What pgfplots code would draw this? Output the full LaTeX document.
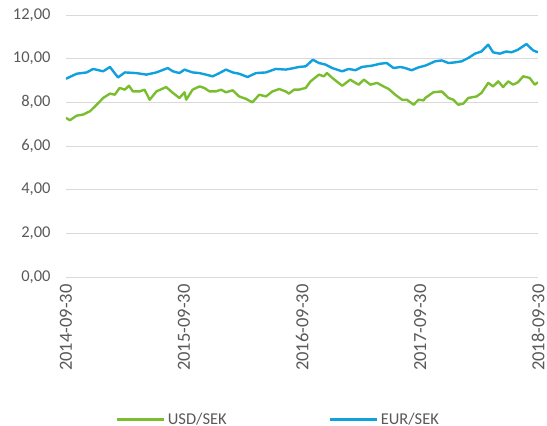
\documentclass[border=0pt]{standalone}
\usepackage{fontspec}
\setmainfont{Carlito}
\usepackage{pgfplots}
\pgfplotsset{compat=1.18}
\usepackage{pgfplotstable}
\definecolor{usdgreen}{RGB}{122,190,48}
\definecolor{eurblue}{RGB}{17,160,222}
\definecolor{gridgray}{RGB}{217,217,217}
\definecolor{txtgray}{RGB}{89,89,89}

\pgfplotstableread{
day val
0 7.29
12 7.18
33 7.39
53 7.44
74 7.59
95 7.89
115 8.20
136 8.40
151 8.35
166 8.66
182 8.58
195 8.76
207 8.50
228 8.50
243 8.58
259 8.12
280 8.50
310 8.70
331 8.43
351 8.20
367 8.46
372 8.12
392 8.58
413 8.73
428 8.66
444 8.50
464 8.50
480 8.58
495 8.46
516 8.55
536 8.27
557 8.16
577 8.00
598 8.35
619 8.27
639 8.50
660 8.61
680 8.50
690 8.40
706 8.58
721 8.58
742 8.66
757 8.96
783 9.27
798 9.19
808 9.34
824 9.12
855 8.76
880 9.04
896 8.89
906 8.81
922 9.04
942 8.81
963 8.89
983 8.73
999 8.61
1019 8.35
1040 8.12
1055 8.12
1076 7.89
1091 8.12
1107 8.09
1112 8.20
1137 8.46
1163 8.50
1184 8.20
1199 8.12
1214 7.89
1230 7.94
1245 8.20
1271 8.27
1286 8.43
1307 8.89
1322 8.73
1338 8.96
1353 8.70
1369 8.96
1384 8.81
1399 8.92
1415 9.19
1435 9.12
1451 8.81
1461 8.92
}\usd

\pgfplotstableread{
day val
0 9.08
33 9.31
64 9.37
84 9.53
115 9.42
136 9.62
161 9.14
182 9.37
218 9.34
249 9.27
280 9.37
315 9.57
331 9.42
351 9.34
367 9.50
372 9.47
392 9.37
413 9.34
433 9.27
454 9.19
475 9.34
495 9.50
516 9.37
536 9.31
562 9.16
588 9.34
619 9.37
649 9.53
680 9.50
706 9.57
721 9.62
742 9.65
764 9.95
783 9.80
803 9.73
824 9.57
855 9.42
875 9.53
896 9.47
916 9.62
947 9.68
973 9.77
993 9.80
1014 9.57
1035 9.62
1050 9.57
1070 9.47
1091 9.60
1112 9.68
1143 9.88
1163 9.92
1184 9.80
1204 9.83
1225 9.88
1245 10.03
1266 10.23
1286 10.33
1307 10.64
1322 10.29
1343 10.23
1363 10.33
1379 10.29
1399 10.41
1425 10.67
1446 10.38
1461 10.29
}\eur

\begin{document}
\begin{tikzpicture}
\path[use as bounding box] (0,0) rectangle (547pt,426pt);
\begin{axis}[
  at={(66pt,149pt)}, anchor=south west,
  scale only axis, width=472pt, height=262pt,
  xmin=0, xmax=1461, ymin=0, ymax=12,
  ytick={0,2,4,6,8,10,12},
  xtick={0,365,731,1096,1461},
  xticklabels={2014-09-30,2015-09-30,2016-09-30,2017-09-30,2018-09-30},
  axis line style={draw=none},
  major tick length=0pt,
  ymajorgrids, major grid style={gridgray, line width=1pt},
  font=\fontsize{16.5}{19}\selectfont\color{txtgray},
  yticklabel style={font=\fontsize{16.5}{19}\selectfont, text=txtgray},
  xticklabel style={font=\fontsize{18.5}{21}\selectfont, text=txtgray},
  /pgf/number format/assume math mode=true,
  yticklabel={\pgfmathprintnumber[fixed,fixed zerofill,precision=2,use comma]{\tick}},
  yticklabel style={anchor=east, xshift=-12pt},
  xticklabel style={inner ysep=0.5pt, yshift=-4pt, rotate=90, anchor=east},
  legend style={at={(0.45,-0.545)}, anchor=center, draw=none, fill=none,
    font=\fontsize{16.5}{19}\selectfont, text=txtgray, legend columns=2,
    /tikz/every even column/.append style={column sep=100pt}},
  legend image code/.code={\draw[#1, line width=3pt] (0pt,0pt) -- (47pt,0pt);},
]
\addplot[usdgreen, line width=2.4pt, line join=round] table[x=day,y=val]{\usd};
\addlegendentry{USD/SEK}
\addplot[eurblue, line width=2.4pt, line join=round] table[x=day,y=val]{\eur};
\addlegendentry{EUR/SEK}
\end{axis}
\end{tikzpicture}
\end{document}
